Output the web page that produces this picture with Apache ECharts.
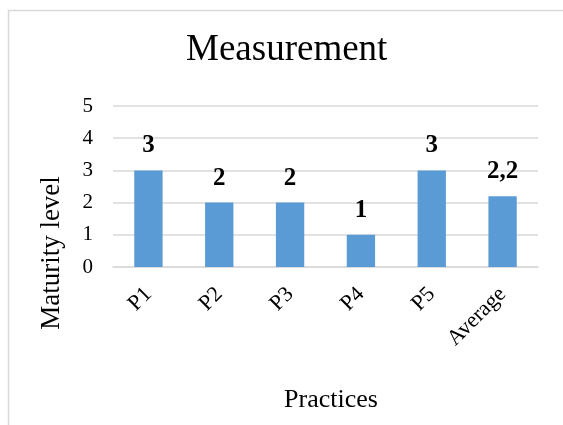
<!DOCTYPE html>
<html>
<head>
<meta charset="utf-8">
<script src="https://cdn.jsdelivr.net/npm/echarts@6/dist/echarts.min.js"></script>
<style>
  html, body { margin: 0; padding: 0; background: #fff; }
  #chart { width: 563px; height: 425px; }
</style>
</head>
<body>
<div id="chart"></div>
<script>
// Maturity level measured for each practice, plus the average
const categories = ['P1', 'P2', 'P3', 'P4', 'P5', 'Average'];
const maturity = [3, 2, 2, 1, 3, 2.2];
const yTicks = [0, 1, 2, 3, 4, 5];

const serif = '"Liberation Serif", "Times New Roman", serif';

const chart = echarts.init(document.getElementById('chart'), null, { renderer: 'canvas' });
chart.setOption({
  backgroundColor: '#ffffff',
  animation: false,
  title: {
    text: 'Measurement',
    left: 186,
    top: 32,
    padding: 0,
    textStyle: { fontFamily: serif, fontSize: 37, fontWeight: 'normal', color: '#000' }
  },
  graphic: [
    {
      type: 'rect',
      shape: { x: 8.5, y: 10.5, width: 600, height: 500 },
      style: { fill: 'none', stroke: '#d9d9d9', lineWidth: 1.5 },
      silent: true
    },
    {
      // y-axis title
      type: 'text',
      x: 52, y: 253,
      rotation: Math.PI / 2,
      style: {
        text: 'Maturity level', fontFamily: serif, fontSize: 27, fill: '#000',
        align: 'center', verticalAlign: 'middle'
      },
      silent: true
    },
    {
      // x-axis title
      type: 'text',
      x: 331, y: 400,
      style: {
        text: 'Practices', fontFamily: serif, fontSize: 26, fill: '#000',
        align: 'center', verticalAlign: 'middle'
      },
      silent: true
    }
  ],
  grid: { left: 113, right: 25, top: 106, bottom: 158, containLabel: false },
  xAxis: {
    type: 'category',
    data: categories,
    axisLine: { show: true, lineStyle: { color: '#d9d9d9', width: 1.5 } },
    axisTick: { show: false },
    axisLabel: { rotate: 45, margin: 24, fontFamily: serif, fontSize: 22, color: '#000' }
  },
  yAxis: {
    type: 'value',
    min: yTicks[0],
    max: yTicks[yTicks.length - 1],
    interval: 1,
    axisLine: { show: false },
    axisTick: { show: false },
    splitLine: { lineStyle: { color: '#d9d9d9', width: 1.5 } },
    axisLabel: {
      margin: 20, fontFamily: serif, fontSize: 21, color: '#000',
      formatter: v => yTicks.includes(v) ? String(v) : ''
    }
  },
  series: [{
    type: 'bar',
    data: maturity,
    barWidth: '40%',
    itemStyle: { color: '#5b9bd5' },
    label: {
      show: true,
      position: 'top',
      distance: 12,
      fontFamily: serif,
      fontSize: 25,
      fontWeight: 'bold',
      color: '#000',
      formatter: p => String(p.value).replace('.', ',')
    }
  }]
});
</script>
</body>
</html>
